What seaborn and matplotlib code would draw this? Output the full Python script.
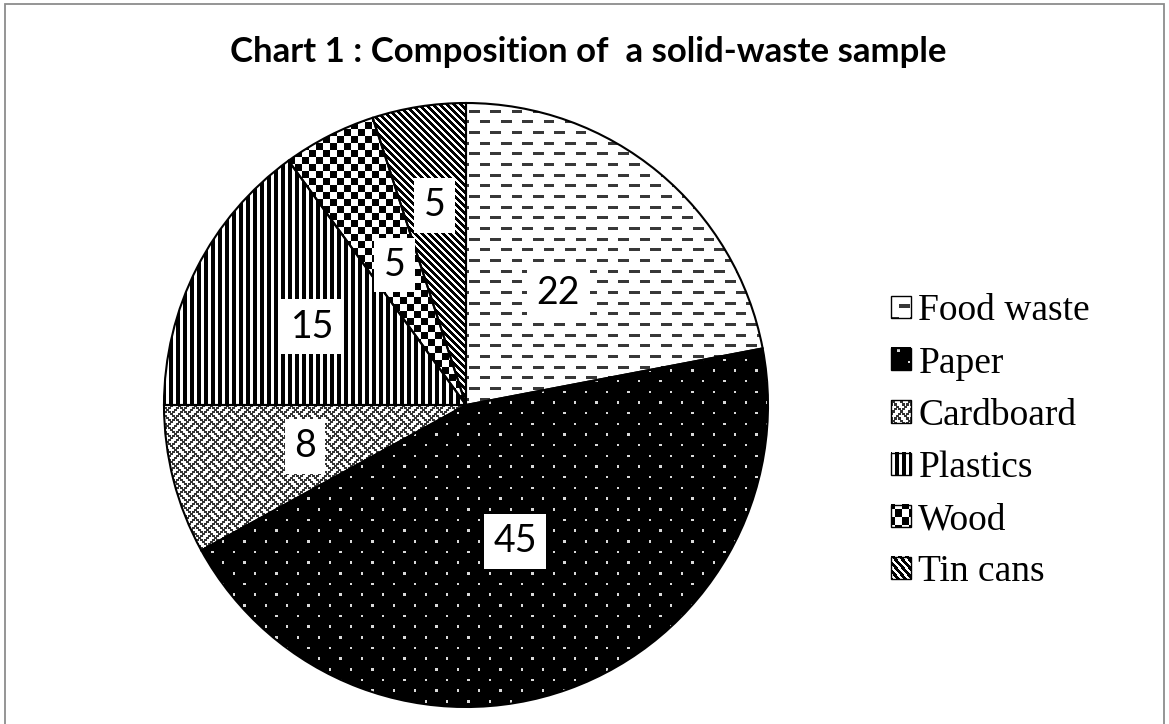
import numpy as np
import matplotlib
matplotlib.use("Agg")
import matplotlib.pyplot as plt
import seaborn as sns
from matplotlib.patches import Rectangle
from matplotlib.image import BboxImage
from matplotlib.transforms import Bbox, TransformedBbox
from matplotlib.legend_handler import HandlerBase

# ── Data ────────────────────────────────────────────────────────────────
categories = ["Food waste", "Paper", "Cardboard", "Plastics", "Wood", "Tin cans"]
values = [22, 45, 8, 15, 5, 5]
title = "Chart 1 : Composition of  a solid-waste sample"

# ── Style ───────────────────────────────────────────────────────────────
sns.set_theme(style="white")
plt.rcParams["font.family"] = ["Lato", "DejaVu Sans"]
plt.rcParams["text.color"] = "black"

W, H, DPI = 1169, 724, 100
CX, CY, R = 466, 405, 302      # pie centre / radius in pixels
HALF = 360                     # half size of the pie axes in pixels
N = 2 * HALF
L = HALF / R

# fill patterns (pixel textures, 0 = black, 1 = white)
yy, xx = np.mgrid[0:N, 0:N].astype(float)


def texture(kind):
    img = np.ones((N, N))
    if kind == "dashes":
        row = np.floor(yy / 10.67)
        on_row = (yy % 10.67) < 3
        dash = ((xx + (row % 2) * 10.67) % 21.33) < 10.5
        img[on_row & dash] = 0.22
    elif kind == "dots":
        img[:] = 0.0
        row = np.floor(yy / 10.67)
        on_row = np.abs((yy % 10.67) - 5) < 1.2
        dot = np.abs(((xx + (row % 2) * 10.67) % 21.33) - 10) < 1.2
        img[on_row & dot] = 0.85
    elif kind == "weave":
        bits = np.array([
            [1, 0, 0, 0, 1, 0, 0, 0],
            [0, 1, 0, 1, 0, 1, 0, 0],
            [0, 0, 1, 0, 0, 0, 1, 0],
            [0, 1, 0, 1, 0, 0, 0, 1],
            [1, 0, 0, 0, 1, 0, 0, 0],
            [0, 0, 0, 1, 0, 1, 0, 1],
            [0, 0, 1, 0, 0, 0, 1, 0],
            [0, 1, 0, 0, 0, 1, 0, 1],
        ])
        tile = np.kron(bits, np.ones((2, 2)))
        tile = np.clip(tile + np.roll(tile, 1, axis=1), 0, 1)
        reps = N // tile.shape[0] + 1
        img = 1.0 - np.tile(tile, (reps, reps))[:N, :N] * 0.8
    elif kind == "vstripes":
        img = np.where(xx % 7 < 4, 0.0, 1.0)
    elif kind == "checker":
        img = np.where((xx // 7 + yy // 7) % 2 == 0, 0.0, 1.0)
    elif kind == "diag":
        img = np.where((xx - yy) % 7 < 3.5, 0.0, 1.0)
    return img


fills = ["dashes", "dots", "weave", "vstripes", "checker", "diag"]
label_r = [0.48, 0.48, 0.55, 0.57, 0.52, 0.67]

fig = plt.figure(figsize=(W / DPI, H / DPI), dpi=DPI)
fig.patch.set_facecolor("white")
ax = fig.add_axes([(CX - HALF) / W, (H - CY - HALF) / H, N / W, N / H])

wedges, _ = ax.pie(
    values, startangle=90, counterclock=False, radius=1,
    wedgeprops=dict(facecolor="none", edgecolor="black", linewidth=1.5, zorder=3),
)

textures = {}
for w, kind in zip(wedges, fills):
    tex = texture(kind)
    textures[kind] = tex
    im = ax.imshow(tex, cmap="gray", vmin=0, vmax=1, extent=[-L, L, -L, L],
                   interpolation="nearest", zorder=1)
    im.set_clip_path(w)

# data labels in white boxes
total = float(sum(values))
cum = np.concatenate([[0], np.cumsum(values)])
for i, v in enumerate(values):
    mid = np.deg2rad((cum[i] + cum[i + 1]) / 2 / total * 360)
    x, y = label_r[i] * np.sin(mid), label_r[i] * np.cos(mid)
    ax.text(x, y, f"{v}", ha="center", va="center", fontsize=27, color="black",
            family=["Lato", "DejaVu Sans"], zorder=5,
            bbox=dict(boxstyle="square,pad=0.25", facecolor="white", edgecolor="none"))

ax.set_xlim(-L, L)
ax.set_ylim(-L, L)
ax.set_aspect("equal")
ax.axis("off")


# ── Legend with small texture swatches ─────────────────────────────────
class TextureHandler(HandlerBase):
    def __init__(self, tile):
        super().__init__()
        self.tile = tile

    def create_artists(self, legend, orig_handle, xdescent, ydescent,
                       width, height, fontsize, trans):
        bb = TransformedBbox(Bbox.from_bounds(-xdescent, -ydescent, width, height), trans)
        img = BboxImage(bb, cmap="gray", norm=plt.Normalize(0, 1), interpolation="nearest")
        img.set_data(self.tile)
        rect = Rectangle((-xdescent, -ydescent), width, height, facecolor="none",
                         edgecolor="black", linewidth=1.0, transform=trans)
        return [img, rect]


hmap = {w: TextureHandler(textures[k][3:23, 3:23]) for w, k in zip(wedges, fills)}
leg = fig.legend(
    wedges, categories, handler_map=hmap,
    loc="upper left", bbox_to_anchor=(891 / W, 1 - 294 / H),
    frameon=False, borderpad=0, borderaxespad=0,
    prop=dict(family="Liberation Serif", size=27),
    handlelength=0.53, handleheight=0.53, handletextpad=0.2, labelspacing=0.47,
)
for t in leg.get_texts():
    t.set_color("black")

fig.text(588 / W, 1 - 52 / H, title, ha="center", va="center", color="black",
         fontsize=25, fontweight="bold", family=["Lato", "DejaVu Sans"])

# outer frame of the chart area
fig.patches.append(Rectangle((5 / W, -0.01), 1159 / W, 1 - 4 / H + 0.01,
                             transform=fig.transFigure, fill=False,
                             edgecolor="#8c8c8c", linewidth=1.3))

fig.savefig("out.png", dpi=DPI, facecolor="white")
plt.close(fig)
